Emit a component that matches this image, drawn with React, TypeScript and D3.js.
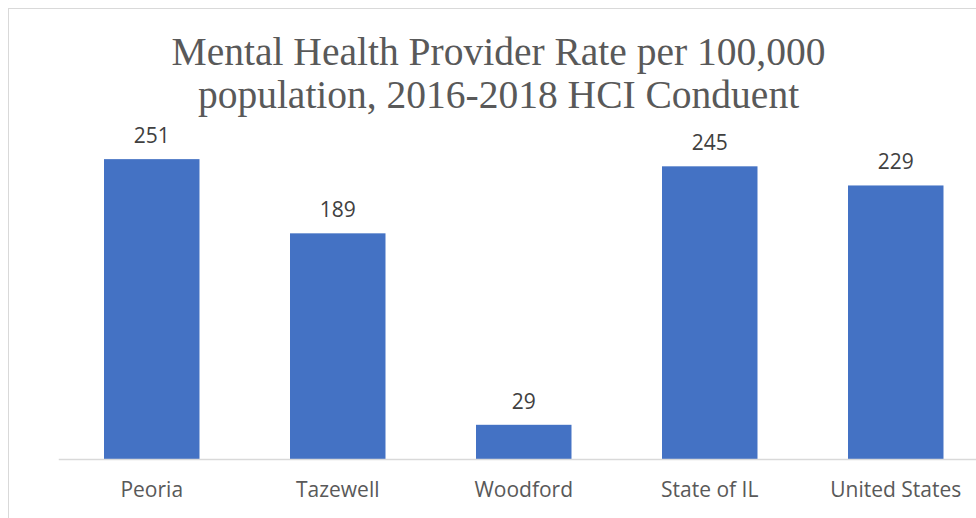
import React from "react";
import * as d3 from "d3";

const categories = ["Peoria", "Tazewell", "Woodford", "State of IL", "United States"];
const values = [251, 189, 29, 245, 229];
const titleLines = ["Mental Health Provider Rate per 100,000", "population, 2016-2018 HCI Conduent"];

export default function App() {
  const W = 976;
  const H = 518;
  const x = d3.scaleBand<string>().domain(categories).range([58.75, 988.75]).paddingInner(0.4866).paddingOuter(0.2433);
  const y = d3.scaleLinear().domain([0, 300]).range([459.5, 100.5]);
  const bw = x.bandwidth();
  return (
    <svg width={W} height={H} style={{ position: "absolute", left: 0, top: 0, display: "block", background: "#fff" }}>
      <rect x={8.5} y={8.5} width={1100} height={700} fill="#fff" stroke="#d9d9d9" strokeWidth={1} />
      {titleLines.map((t, i) => (
        <text key={i} x={498.5} y={64.5 + i * 43.5} textAnchor="middle" fontFamily="'Liberation Serif', serif" fontSize={39.5} fill="#595959">
          {t}
        </text>
      ))}
      {categories.map((c, i) => (
        <rect key={c} x={x(c)!} y={y(values[i])} width={bw} height={y(0) - y(values[i])} fill="#4472C4" />
      ))}
      <line x1={x.range()[0]} x2={x.range()[1]} y1={y(0)} y2={y(0)} stroke="#d9d9d9" strokeWidth={1.5} />
      {categories.map((c, i) => (
        <text key={"v" + c} x={x(c)! + bw / 2} y={y(values[i]) - 16} textAnchor="middle" fontFamily="'Open Sans', sans-serif" fontSize={21} fill="#404040">
          {values[i]}
        </text>
      ))}
      {categories.map((c) => (
        <text key={"c" + c} x={x(c)! + bw / 2} y={497} textAnchor="middle" fontFamily="'Open Sans', sans-serif" fontSize={21} fill="#595959">
          {c}
        </text>
      ))}
    </svg>
  );
}
